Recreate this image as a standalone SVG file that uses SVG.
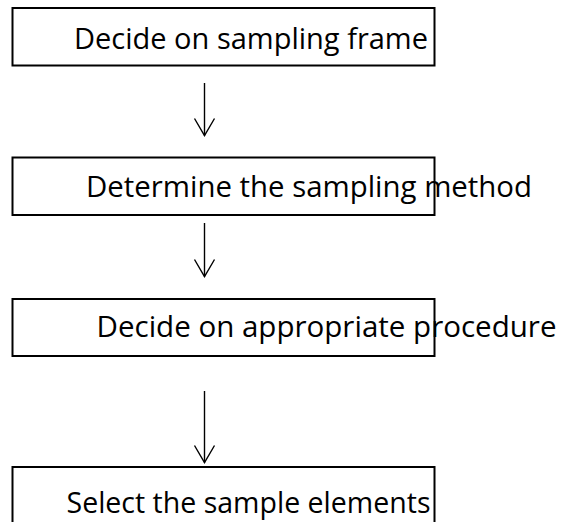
<svg xmlns="http://www.w3.org/2000/svg" width="563" height="522" viewBox="0 0 563 522">
  <defs>
    <style>
      .box { fill: none; stroke: #000; stroke-width: 2; }
      .label { font-family: "Open Sans", "Noto Sans", sans-serif; font-size: 29px; fill: #000; }
      .link { stroke: #000; stroke-width: 1.4; fill: none; }
      .head { stroke: #000; stroke-width: 1.4; fill: none; stroke-linejoin: miter; }
    </style>
  </defs>

  <g id="connectors">
    <!-- frame -> method -->
    <line class="link" x1="204.5" y1="83" x2="204.5" y2="135.5"/>
    <polyline class="head" points="194.5,118.5 204.5,135.5 214.5,118.5"/>
    <!-- method -> procedure -->
    <line class="link" x1="204.5" y1="223" x2="204.5" y2="276.5"/>
    <polyline class="head" points="194.5,259.5 204.5,276.5 214.5,259.5"/>
    <!-- procedure -> elements -->
    <line class="link" x1="204.5" y1="391" x2="204.5" y2="462.5"/>
    <polyline class="head" points="194.5,445.5 204.5,462.5 214.5,445.5"/>
  </g>

  <g id="node-frame">
    <rect class="box" x="12.5" y="8" width="422" height="57.5"/>
    <text class="label" x="74" y="48.5" textLength="354" lengthAdjust="spacingAndGlyphs">Decide on sampling frame</text>
  </g>

  <g id="node-method">
    <rect class="box" x="12.5" y="157.5" width="422" height="57.5"/>
    <text class="label" x="86" y="197" textLength="446" lengthAdjust="spacingAndGlyphs">Determine the sampling method</text>
  </g>

  <g id="node-procedure">
    <rect class="box" x="12.5" y="299" width="422" height="57"/>
    <text class="label" x="96.5" y="337" textLength="460" lengthAdjust="spacingAndGlyphs">Decide on appropriate procedure</text>
  </g>

  <g id="node-elements">
    <rect class="box" x="12.5" y="467" width="422" height="60"/>
    <text class="label" x="66.5" y="513" textLength="364" lengthAdjust="spacingAndGlyphs">Select the sample elements</text>
  </g>
</svg>
